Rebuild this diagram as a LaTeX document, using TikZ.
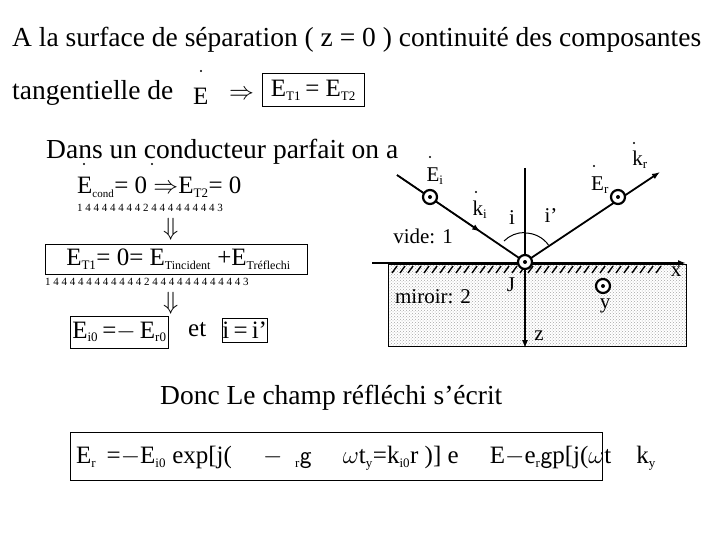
\documentclass[tikz,border=0pt]{standalone}
\usepackage{fontspec}
\setmainfont{Liberation Serif}
\usetikzlibrary{patterns,arrows.meta,calc}
\newcommand{\sbs}[1]{\textsubscript{\fontsize{13}{13}\selectfont #1}}
\begin{document}
\begin{tikzpicture}[x=1pt,y=-1pt,
  txt/.style={anchor=west,inner sep=0,font=\fontsize{27.5}{30}\selectfont},
  eq/.style={anchor=west,inner sep=0,font=\fontsize{25}{27}\selectfont},
  sm/.style={inner sep=0,font=\fontsize{21}{23}\selectfont},
  tiny/.style={anchor=west,inner sep=0,font=\fontsize{11}{12}\selectfont},
  bx/.style={draw,line width=0.8pt},
  ray/.style={line width=1.8pt},
  dotc/.style={circle,draw,line width=2.2pt,minimum size=14pt,inner sep=0,fill=white}]
\useasboundingbox (0,0) rectangle (720,540);
% top text
\node[txt] (t1) at (12,40) {A la surface de séparation ( z = 0 ) continuité des composantes};
\node[txt] (t2) at (12,93) {tangentielle de};
\node[eq] (e0) at (193,96) {E};
\node[eq] (imp0) at (229,95) {$\Rightarrow$};
\node[bx,eq,minimum width=102pt,minimum height=33pt,anchor=west] (b0) at (262,90) {E\sbs{T1}\,= E\sbs{T2}};
\node[txt] (t3) at (46,152) {Dans un conducteur parfait on a};
% left equations
\node[eq] (l1) at (77,187) {E\textsubscript{\fontsize{11}{11}\selectfont cond}= 0 $\Rightarrow$E\sbs{T2}= 0};
\node[tiny] (u1) at (77,208) {1 4 4 4 4 4 4 4 2 4 4 4 4 4 4 4 4 3};
\node[eq] (da1) at (163,229) {$\Downarrow$};
\node[bx,eq,minimum width=262pt,minimum height=30pt,anchor=west] (b1) at (45,259) {\,E\sbs{T1}= 0= E\textsubscript{\fontsize{12}{12}\selectfont Tincident} +E\textsubscript{\fontsize{12}{12}\selectfont Tréflechi}};
\node[tiny] (u2) at (45,282) {1 4 4 4 4 4 4 4 4 4 4 4 2 4 4 4 4 4 4 4 4 4 4 4 3};
\node[eq] (da2) at (163,303) {$\Downarrow$};
\node[bx,eq,minimum width=98pt,minimum height=32pt,anchor=west] (b2) at (70,332) {E\sbs{i0}\,=$-$\,E\sbs{r0}};
\node[eq] (et) at (188,330) {et};
\node[bx,eq,minimum width=40pt,minimum height=24pt,anchor=west] (b3) at (222,330) {i\,=\,i'};
% diagram
\fill[pattern=crosshatch dots,pattern color=gray!70] (388,264) rectangle (686,346);
\draw[line width=0.6pt] (388,264) rectangle (686,346);
\foreach \x in {392,400,...,660} \draw[line width=1.4pt] (\x+5,266) -- (\x,273);
\coordinate (xs) at (372,263); \coordinate (xe) at (686,263);
\draw[ray,-{Latex[length=8pt]}] (xs) -- (xe);
\coordinate (J) at (525,262);
\coordinate (zt) at (525,168); \coordinate (zb) at (525,348);
\draw[line width=1.3pt,-{Latex[length=8pt]}] (zt) -- (zb);
\coordinate (ia) at (397,175); \coordinate (rb) at (660,172);
\draw[ray] (ia) -- (J);
\draw[-{Latex[length=8pt]},line width=1.3pt] (ia) -- ($(ia)!0.65!(J)$);
\draw[ray,-{Latex[length=8pt]}] (J) -- (rb);
\draw[line width=1pt] (504,241) arc[start angle=-135,end angle=-90,radius=29];
\draw[line width=1pt] (525,233) arc[start angle=-90,end angle=-36,radius=29];
\foreach \n/\p in {cJ/{(525,262)},ci/{(430,197)},cr/{(618,197)},cy/{(603,286)}}{
  \node[dotc] (\n) at \p {};
  \fill (\n.center) circle (2pt);}
\node[sm] (Ei) at (435,176) {E\sbs{i}};
\node[sm] (ki) at (480,210) {k\sbs{i}};
\node[sm] (Er) at (600,185) {E\sbs{r}};
\node[sm] (kr) at (640,160) {k\sbs{r}};
% vector dots
\foreach \p in {(201,71),(84,164),(152,164),(430,157),(476,192),(594,166),(634,143)}
  \fill \p circle (1.2pt);
\node[sm] (li) at (512,218) {i};
\node[sm] (lip) at (551,216) {i'};
\node[sm] (vide) at (423,236) {vide: 1};
\node[sm] (mir) at (433,297) {miroir: 2};
\node[sm] (lJ) at (511,285) {J};
\node[sm] (lx) at (676,272) {x};
\node[sm] (ly) at (605,306) {y};
\node[sm] (lz) at (539,336) {z};
% bottom
\node[txt] (donc) at (160,398) {Donc Le champ réfléchi s’écrit};
\node[bx,eq,minimum width=532pt,minimum height=48pt,anchor=west] (b4) at (70,456) {};
\node[eq] (f1) at (76,458) {E\sbs{r}\, =$-$E\sbs{i0} exp[j(\quad\ $-$\ \ \sbs{r}\textsf{g}\quad\ $\omega$t\sbs{y}=k\sbs{i0}r )] e\quad\ E$-$e\sbs{r}\textsf{g}p[j($\omega$t\quad k\sbs{y}};
\end{tikzpicture}
\end{document}
